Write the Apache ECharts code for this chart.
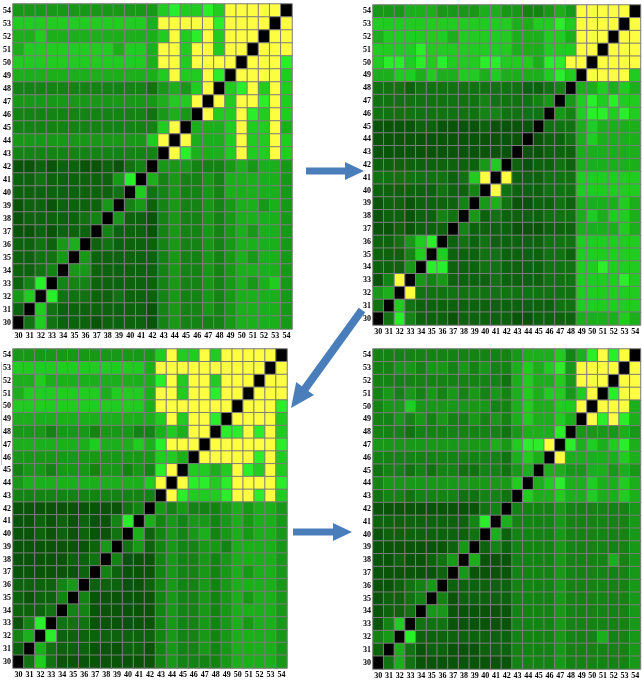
<!DOCTYPE html>
<html>
<head>
<meta charset="utf-8">
<script src="https://cdn.jsdelivr.net/npm/echarts@6/dist/echarts.min.js"></script>
<style>
  html, body { margin: 0; padding: 0; background: #ffffff; }
  #chart { width: 642px; height: 683px; }
</style>
</head>
<body>
<div id="chart"></div>
<script>
// Marker labels shared by both axes of every matrix (bottom/left = 30).
const labels = ['30','31','32','33','34','35','36','37','38','39','40','41','42',
                '43','44','45','46','47','48','49','50','51','52','53','54'];

// Cell levels: 0 = diagonal (black), 1..9 = green shade (dark -> bright), 10 = yellow.
// Each matrix lists rows from 54 (top) down to 30 (bottom); columns run 30 -> 54.
const stage1 = [
  [6,6,6,6,6,6,6,6,6,6,6,6,6, 8,9,8,8,9,8,10,10,10,10,10,0],
  [8,8,8,8,8,8,8,8,8,8,8,8,7, 10,10,10,10,10,9,10,10,10,10,0,10],
  [7,7,8,7,7,7,7,7,7,7,7,7,7, 8,10,8,9,10,8,10,10,10,0,10,10],
  [7,8,8,8,8,8,8,8,8,7,8,8,7, 10,10,8,10,10,8,10,10,0,10,10,10],
  [8,8,8,8,8,8,8,8,8,8,8,8,7, 10,10,8,10,10,10,10,0,10,10,10,9],
  [7,7,7,7,7,7,7,7,7,7,7,7,7, 8,10,8,8,10,9,0,10,10,10,10,8],
  [5,5,5,5,5,5,5,5,5,5,5,5,4, 6,7,6,8,10,0,8,9,10,8,10,8],
  [6,6,6,6,6,6,6,6,6,6,6,6,6, 7,8,8,10,0,10,8,10,10,9,10,8],
  [5,5,5,5,5,5,5,5,5,5,5,5,4, 6,7,6,0,10,8,8,10,9,8,10,8],
  [5,5,5,5,5,5,5,5,5,5,5,5,5, 8,10,0,7,7,7,8,10,8,8,10,7],
  [6,6,6,6,6,6,6,6,6,6,6,6,8, 10,0,10,7,7,7,8,10,8,8,10,8],
  [5,5,5,5,5,5,5,5,5,5,5,5,5, 0,10,9,7,7,7,8,10,8,8,10,8],
  [2,2,3,2,3,3,2,2,3,2,4,5,0, 6,6,6,5,5,5,6,7,6,7,7,6],
  [3,3,4,3,3,3,3,3,3,6,9,0,7, 5,6,5,5,6,5,7,7,7,7,7,6],
  [3,3,3,3,3,3,3,3,3,4,0,8,4, 5,6,5,5,6,5,7,7,7,7,7,6],
  [2,3,3,2,3,3,3,3,6,0,5,6,3, 5,6,5,5,6,5,6,7,7,6,7,6],
  [2,3,3,3,3,3,4,5,0,6,3,3,2, 5,6,5,5,6,5,6,7,7,7,7,6],
  [2,2,3,2,3,3,3,0,5,3,3,3,2, 5,6,5,5,6,5,6,7,6,7,7,6],
  [3,3,4,3,6,7,0,3,4,3,3,3,3, 5,6,5,5,6,5,6,7,7,7,7,6],
  [3,3,4,4,6,0,6,3,3,3,3,3,3, 5,6,5,5,6,5,6,7,6,7,7,6],
  [3,3,4,5,0,6,6,3,3,3,3,3,3, 5,6,5,5,6,5,6,7,7,7,7,6],
  [3,5,9,0,5,5,5,3,3,3,3,3,3, 5,6,5,5,6,5,6,7,6,7,8,6],
  [6,8,0,9,4,4,4,3,3,4,3,3,3, 5,6,5,5,6,5,6,7,7,7,7,6],
  [3,0,8,4,3,3,3,3,3,3,3,3,2, 5,6,5,5,6,5,6,7,7,7,7,6],
  [0,4,8,4,3,3,3,2,3,3,3,3,2, 5,6,5,5,5,5,6,7,7,7,7,6]
];

const stage2 = [
  [6,6,6,7,7,7,6,6,6,6,7,7,6,6,5,5,6,7,6, 10,10,10,10,10,0],
  [8,8,8,8,8,8,8,8,8,8,8,8,8,7,7,8,8,9,8, 10,10,10,10,0,10],
  [7,8,8,8,8,8,8,7,8,8,8,8,8,7,7,7,8,8,7, 10,10,10,0,10,10],
  [8,8,8,8,9,8,8,8,8,8,8,8,8,7,7,7,8,8,8, 10,10,0,10,10,10],
  [8,9,9,8,9,8,9,8,8,8,9,9,8,8,8,7,9,9, 10,10,0,10,10,10,10],
  [7,7,8,8,7,8,7,7,8,8,7,8,7,7,7,7,8,9,8, 0,10,10,10,10,8],
  [4,4,4,3,4,4,4,4,4,4,4,4,4,4,3,3,4,5, 0, 7,7,8,7,8,7],
  [4,4,4,4,4,4,4,4,4,4,5,4,4,4,4,5, 6,0,6, 8,9,8,9,8,8],
  [4,4,4,4,4,4,4,4,4,4,5,5,4,4,4,4, 0,6,5, 8,9,9,8,9,8],
  [2,2,2,2,3,3,2,2,2,2,3,2,2,2,2, 0, 4,4,4, 7,8,7,7,7,7],
  [2,2,2,2,2,2,2,2,2,2,2,2,2,2, 0, 2, 3,3,4, 7,8,7,7,7,7],
  [2,2,2,2,2,2,2,2,2,2,2,2,2, 0, 2,2,3,3,3, 7,7,7,7,7,7],
  [3,3,3,3,3,3,3,3,3,3, 6,8,0, 3,2,3,3,4,3, 7,7,7,7,7,7],
  [4,4,4,4,4,4,4,3,4, 8,10,0,10, 3,3,3,4,4,4, 8,8,8,8,8,8],
  [3,3,3,3,3,3,4,3,3, 5,0,10,4, 3,3,3,4,4,4, 8,8,8,8,8,8],
  [2,3,3,2,3,3,3,3, 5,0,6,7,4, 2,2,3,3,4,3, 7,7,7,7,8,7],
  [2,3,3,2,3,3, 5,4,0,6, 3,4,3, 3,3,3,4,4,4, 7,8,7,8,8,7],
  [2,2,3,2,3,3,3, 0,5, 3,3,3,3, 2,2,2,3,3,3, 7,7,7,7,8,7],
  [3,3,4, 6,8,9,0, 3,4,3,4,3,3, 3,3,3,4,4,4, 8,8,8,8,8,8],
  [3,3,3, 5,8,0,8, 3,3,3,4,4,3, 3,3,3,4,4,3, 8,8,8,8,8,8],
  [3,3,3, 6,0,9,9, 3,3,3,4,4,3, 3,3,3,4,4,4, 8,8,9,8,8,8],
  [2,5,10,0,6,5,6, 3,3,3,3,4,3, 3,3,3,4,4,4, 8,8,8,8,9,8],
  [6,7,0,10, 4,4,4,4,4,4,4,4,4, 4,4,4,4,4,4, 8,8,8,8,8,8],
  [4,0,8,4, 3,3,3,3,3,3,3,3,3, 3,3,3,3,4,4, 8,8,8,8,8,8],
  [0,4,9,5, 3,3,3,2,3,3,3,3,3, 2,2,3,3,3,3, 7,7,7,7,8,7]
];

const stage3 = [
  [6,6,6,6,6,6,6,6,6,6,6,6,6, 8,10,8,8,10,8,10,10,10,10,10,0],
  [8,8,8,8,8,8,8,8,8,8,8,8,7, 10,10,10,10,10,10,10,10,10,10,0,10],
  [7,7,8,7,7,7,7,7,7,7,7,7,7, 9,10,8,10,10,8,10,10,10,0,10,10],
  [7,8,8,8,8,8,8,8,7,8,8,8,7, 10,10,8,10,10,9,10,10,0,10,10,10],
  [8,8,8,8,8,8,8,8,8,8,8,8,7, 10,10,10,10,10,10,10,0,10,10,10,9],
  [7,7,7,7,7,7,7,7,7,7,7,7,7, 8,10,8,10,10,9,0,10,10,10,10,8],
  [6,6,6,5,6,6,6,5,6,6,6,5,5, 7,8,7,10,10,0,9,9,10,9,10,8],
  [7,7,7,7,7,7,7,8,7,7,7,8,7, 9,10,10,10,0,10,10,10,10,10,10,9],
  [6,6,6,6,6,6,6,6,6,6,6,6,6, 8,8,7,0,10,10,10,10,10,9,10,8],
  [5,6,6,5,6,6,6,5,6,6,5,6,5, 9,10,0,8,8,7,8,10,9,8,10,8],
  [6,7,7,7,7,7,7,7,7,7,7,7,8, 10,0,10,9,9,8,9,10,10,10,10,9],
  [5,5,5,5,5,5,5,5,5,5,5,5,5, 0,10,9,8,8,8,9,10,10,9,10,8],
  [2,2,2,2,2,2,2,2,2,2,4,5,0, 6,5,6,5,5,5,6,7,6,7,7,6],
  [2,2,3,2,3,2,3,2,2,5,9,0,7, 5,6,5,6,6,5,6,7,6,7,7,6],
  [2,2,3,2,3,2,3,2,2,4,0,7,3, 5,6,5,6,7,5,6,7,6,7,7,6],
  [2,2,2,2,2,2,2,3,6,0,4,6,3, 5,6,5,5,6,6,5,7,7,7,7,6],
  [2,2,2,2,2,3,3,4,0,5,2,2,2, 5,6,5,5,6,5,6,7,7,7,7,6],
  [2,2,2,2,2,2,3,0,5,3,2,2,2, 5,6,5,5,6,5,6,7,6,7,7,6],
  [3,3,3,3,5,6,0,3,3,3,2,2,3, 5,6,5,5,6,5,6,7,7,7,7,6],
  [3,2,3,3,5,0,5,2,2,2,2,2,2, 5,6,5,5,6,5,6,7,6,7,7,6],
  [3,3,3,4,0,5,5,2,2,2,2,2,2, 5,6,5,5,6,5,6,7,7,7,7,6],
  [2,5,9,0,4,4,4,2,2,2,2,2,2, 5,6,5,5,6,5,6,7,6,7,7,6],
  [5,7,0,9,3,3,3,3,3,3,3,3,3, 5,6,5,5,6,5,6,7,7,7,7,6],
  [3,0,7,4,3,3,3,2,2,2,3,3,2, 5,6,5,5,6,5,6,7,7,7,7,6],
  [0,4,8,4,2,2,2,2,2,2,2,2,2, 5,6,5,5,5,5,6,7,7,7,7,6]
];

const stage4 = [
  [5,5,5,5,5,5,5,5,5,5,5,5,5, 6,7,7,7,8,5,7,9,10,9,10,0],
  [5,5,6,6,5,6,6,5,6,5,6,5,5, 7,8,7,8,9,6,10,10,10,10,0,10],
  [5,5,5,5,5,5,5,5,5,5,5,5,4, 7,8,7,7,8,6,10,10,10,0,10,10],
  [5,6,5,6,5,6,5,6,5,6,5,6,5, 7,8,7,8,8,6,8,10,0,9,10,10],
  [5,6,6,8,6,6,6,6,6,6,6,5,5, 7,8,7,7,8,8,10,0,10,10,10,7],
  [5,5,6,5,6,5,6,5,5,6,5,6,5, 7,8,7,7,8,7,0,10,9,10,9,7],
  [5,5,5,4,5,5,5,5,5,5,5,5,4, 6,7,7,7,9,0,6,6,6,6,7,6],
  [6,6,6,6,6,6,6,6,6,6,6,7,6, 8,9,9,10,0,9,7,8,7,8,9,7],
  [5,5,5,5,5,5,5,5,5,5,5,5,4, 7,8,7,0,10,7,7,7,7,7,8,7],
  [4,5,5,4,5,4,5,5,4,4,5,5,4, 6,7,0,7,7,6,6,7,7,6,7,6],
  [5,6,6,6,6,6,6,6,6,6,6,6,6, 8,0,7,8,9,7,7,8,7,7,8,7],
  [4,5,5,4,5,5,5,5,4,4,5,5,4, 0,8,7,7,8,7,7,8,7,7,8,7],
  [2,2,2,2,2,2,2,2,2,2,4,5,0, 5,5,5,5,6,5,5,5,5,5,5,6],
  [3,3,3,3,3,3,3,3,3,5,9,0,7, 5,5,5,5,6,5,5,5,5,5,5,6],
  [2,3,3,3,3,3,3,3,3,4,0,7,3, 5,5,5,5,6,5,5,5,5,5,5,6],
  [2,2,2,2,2,2,2,3,6,0,3,5,3, 5,5,5,5,6,5,5,5,5,5,5,6],
  [2,2,3,2,2,3,4,6,0,7,2,2,2, 5,5,5,5,6,5,5,5,5,7,5,6],
  [2,2,2,2,2,2,3,0,6,2,2,2,2, 5,5,5,5,6,5,5,5,5,5,5,6],
  [2,2,3,4,5,6,0,3,3,3,3,3,3, 5,5,5,5,6,5,5,5,5,5,5,6],
  [2,3,3,4,5,0,5,2,3,3,3,3,3, 5,5,5,5,6,5,5,5,5,5,5,6],
  [2,3,3,4,0,6,6,2,2,2,2,2,2, 5,5,5,5,6,5,5,5,5,5,5,6],
  [2,5,8,0,4,4,4,2,2,2,2,2,2, 5,5,5,5,6,5,5,5,5,5,5,6],
  [5,6,0,9,3,3,3,3,3,3,3,3,3, 5,5,5,5,6,5,5,5,7,5,5,6],
  [3,0,7,4,2,3,3,2,2,2,3,3,3, 5,5,5,5,6,5,5,5,5,5,5,6],
  [0,4,7,4,2,2,2,2,2,2,2,2,2, 5,5,5,5,6,5,5,5,5,5,5,6]
];

// Colour for each cell level.
const levelColors = ['#000000', '#074607', '#0a540a', '#0d630d', '#107210', '#138313',
                     '#179817', '#1bb01b', '#21cc21', '#29ee29', '#fdfd42'];

const panels = [
  { rows: stage1, left: 12,  top: 4,   width: 280, height: 325 },
  { rows: stage2, left: 373, top: 5,   width: 274, height: 320 },
  { rows: stage3, left: 11,  top: 349, width: 276, height: 319 },
  { rows: stage4, left: 373, top: 349, width: 274, height: 320 }
];

const labelFont = { fontFamily: 'Liberation Serif', fontWeight: 'bold', fontSize: 8, color: '#000000' };

const grid = [], xAxis = [], yAxis = [], series = [];
panels.forEach((p, i) => {
  grid.push({ left: p.left, top: p.top, width: p.width, height: p.height });
  xAxis.push({
    type: 'category', gridIndex: i, data: labels,
    axisLine: { show: false }, axisTick: { show: false }, splitLine: { show: false },
    axisLabel: Object.assign({ interval: 0, margin: 3 }, labelFont)
  });
  yAxis.push({
    type: 'category', gridIndex: i, data: labels,
    axisLine: { show: false }, axisTick: { show: false }, splitLine: { show: false },
    axisLabel: Object.assign({ interval: 0, margin: 2 }, labelFont)
  });
  const cells = [];
  p.rows.forEach((row, r) => {
    row.forEach((v, c) => cells.push([c, labels.length - 1 - r, v]));
  });
  series.push({
    type: 'heatmap', xAxisIndex: i, yAxisIndex: i, data: cells,
    itemStyle: { borderColor: '#7c7c7c', borderWidth: 1 },
    emphasis: { disabled: true }, silent: true
  });
});

// Block arrow polygon from tail (x1,y1) to tip (x2,y2).
function arrow(x1, y1, x2, y2, headLen, headHalf, shaftHalf) {
  const dx = x2 - x1, dy = y2 - y1, L = Math.hypot(dx, dy);
  const ux = dx / L, uy = dy / L, px = -uy, py = ux;
  const bx = x2 - ux * headLen, by = y2 - uy * headLen;
  return {
    type: 'polygon', silent: true,
    shape: { points: [
      [x1 + px * shaftHalf, y1 + py * shaftHalf],
      [bx + px * shaftHalf, by + py * shaftHalf],
      [bx + px * headHalf, by + py * headHalf],
      [x2, y2],
      [bx - px * headHalf, by - py * headHalf],
      [bx - px * shaftHalf, by - py * shaftHalf],
      [x1 - px * shaftHalf, y1 - py * shaftHalf]
    ] },
    style: { fill: '#4a7ebb' }
  };
}

const chart = echarts.init(document.getElementById('chart'), null, { renderer: 'canvas' });
chart.setOption({
  animation: false,
  backgroundColor: '#ffffff',
  grid, xAxis, yAxis, series,
  visualMap: {
    type: 'piecewise', show: false, dimension: 2,
    seriesIndex: [0, 1, 2, 3],
    pieces: levelColors.map((c, v) => ({ value: v, color: c }))
  },
  graphic: [
    arrow(306, 171, 364, 171, 19, 9, 3.5),
    arrow(362, 310, 291, 408, 24, 11, 4),
    arrow(293, 532, 352, 532, 19, 9, 3.5),
    // thin rule along the left edge beside the lower-left matrix
    { type: 'line', silent: true, shape: { x1: 1.5, y1: 362, x2: 1.5, y2: 465 },
      style: { stroke: '#c4c4c4', lineWidth: 1 } }
  ]
});
</script>
</body>
</html>
